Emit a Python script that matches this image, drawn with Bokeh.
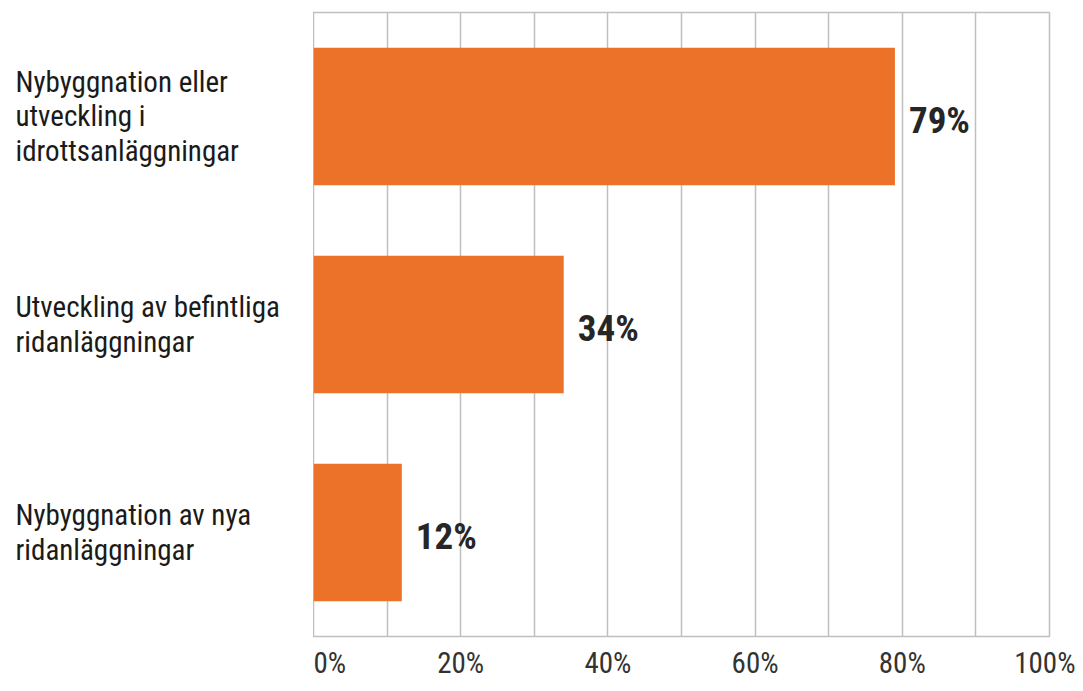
from bokeh.plotting import figure
from bokeh.layouts import row
from bokeh.models import Range1d, FixedTicker, NumeralTickFormatter, ColumnDataSource
from bokeh.core.properties import value
from bokeh.embed import file_html
from bokeh.resources import INLINE

categories = [
    "Nybyggnation eller\nutveckling i\nidrottsanläggningar",
    "Utveckling av befintliga\nridanläggningar",
    "Nybyggnation av nya\nridanläggningar",
]
shares = [0.79, 0.34, 0.12]
value_labels = ["79%", "34%", "12%"]
grid_ticks = [0.0, 0.1, 0.2, 0.3, 0.4, 0.5, 0.6, 0.7, 0.8, 0.9, 1.0]
axis_ticks = [0.0, 0.2, 0.4, 0.6, 0.8, 1.0]

FONT = "Liberation Sans Narrow, Arial Narrow, Roboto Condensed, sans-serif"
n = len(categories)
ypos = [n - 1 - i for i in range(n)]

src = ColumnDataSource(dict(y=ypos, x=shares, lab=value_labels, cat=categories))
yr = Range1d(-0.5, n - 0.5)

# left panel with the category labels
pl = figure(width=313, height=683, output_backend="svg", toolbar_location=None,
            x_range=Range1d(0, 1), y_range=yr,
            min_border_left=0, min_border_right=0, min_border_top=12, min_border_bottom=47)
pl.axis.visible = False
pl.grid.visible = False
pl.outline_line_color = None
pl.text(x=0, y="y", text="cat", source=src, x_offset=15, y_offset=0,
        text_font=value(FONT), text_font_size="29px", text_color="#1A1A1A",
        text_baseline="middle", text_align="left", text_line_height=1.02)

# main chart
p = figure(width=762, height=683, output_backend="svg", toolbar_location=None,
           x_range=Range1d(0, 1), y_range=yr,
           min_border_left=0, min_border_right=26, min_border_top=12, min_border_bottom=47)
p.outline_line_color = "#BFBFBF"
p.outline_line_width = 1.5

p.hbar(y="y", left=0, right="x", height=0.66, source=src, fill_color="#EC7229", line_color=None)

p.text(x="x", y="y", text="lab", source=src, x_offset=14, y_offset=4,
       text_font=value(FONT), text_font_style="bold", text_font_size="37px",
       text_color="#262626", text_baseline="middle", text_align="left")

p.xaxis.ticker = FixedTicker(ticks=axis_ticks)
p.xaxis.formatter = NumeralTickFormatter(format="0%")
p.xaxis.axis_line_color = None
p.xaxis.major_tick_line_color = None
p.xaxis.minor_tick_line_color = None
p.xaxis.major_tick_out = 0
p.xaxis.major_tick_in = 0
p.xaxis.major_label_standoff = 9
p.xaxis.major_label_text_font = FONT
p.xaxis.major_label_text_font_size = "29px"
p.xaxis.major_label_text_color = "#333333"

p.yaxis.visible = False
p.ygrid.visible = False
p.xgrid.ticker = FixedTicker(ticks=grid_ticks)
p.xgrid.grid_line_color = "#BFBFBF"
p.xgrid.grid_line_width = 1.5
p.xgrid.level = "image"

layout = row(pl, p, spacing=0)
open("out.html", "w").write(file_html(layout, INLINE))
